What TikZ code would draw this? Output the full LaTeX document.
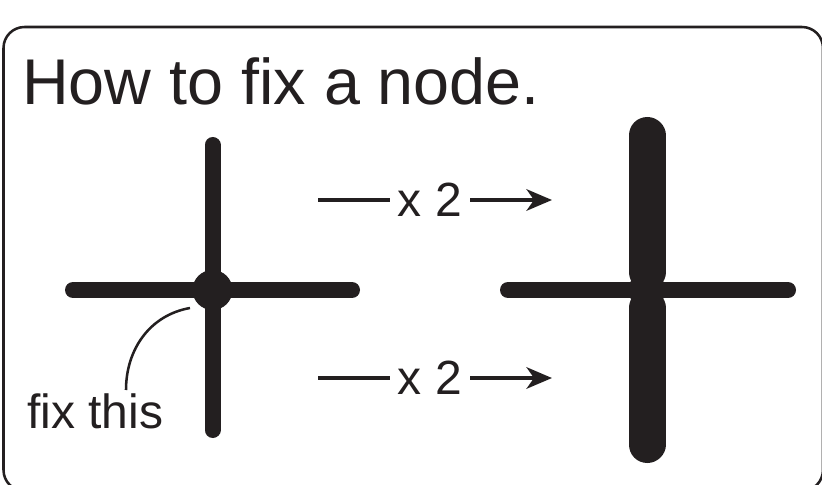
\documentclass[tikz,border=0pt]{standalone}
\usepackage{fontspec}
\setmainfont{Liberation Sans}
\usetikzlibrary{arrows.meta,positioning}
\definecolor{InkBlack}{HTML}{231F20}
\tikzset{
    % Outer frame style
    framebox/.style={
        draw=InkBlack,
        line width=1.9pt,
        rounded corners=15.75pt
    },
    % Thin bar of a cross
    thinbar/.style={
        draw=InkBlack,
        line width=12pt,
        line cap=round
    },
    % Doubled bar of a cross
    thickbar/.style={
        draw=InkBlack,
        line width=27.75pt,
        line cap=round
    },
    % Joint where the bars meet
    jointnode/.style={
        circle,
        fill=InkBlack,
        inner sep=0pt,
        minimum size=30pt
    },
    % Plain text
    labeltext/.style={
        text=InkBlack,
        inner sep=0pt,
        font=\fontsize{36}{40}\selectfont
    },
    % Title text
    titletext/.style={
        labeltext,
        font=\fontsize{48.5}{54}\selectfont
    },
    % Factor text between the arrows
    factortext/.style={
        labeltext,
        inner xsep=6pt
    },
    % Plain line
    plainline/.style={
        line width=3.4pt,
        draw=InkBlack
    },
    % Arrow
    myarrow/.style={
        plainline,
        -{Stealth[length=19pt,width=16pt,inset=5.5pt]}
    },
    % Pointer curve
    pointer/.style={
        line width=1.9pt,
        draw=InkBlack
    }
}
\begin{document}
\begin{tikzpicture}[x=0.75pt, y=-0.75pt]
    \useasboundingbox (0,0) rectangle (822,485);
    \draw[framebox] (3.5,27) rectangle (823,491);

    \node[titletext, anchor=base west] (title) at (22,105) {How to fix a node.};

    % left cross
    \draw[thinbar] (73,290) -- (352,290);
    \draw[thinbar] (212.5,145) -- (212.5,430);
    \node[jointnode] (lfix) at (212.5,290) {};

    % right cross
    \draw[thinbar] (508,290) -- (788,290);
    \draw[thickbar] (647,135.5) -- (647,272);
    \draw[thickbar] (647,308) -- (647,444.5);
    \node[jointnode, minimum size=27.75pt] (rfix) at (647,290) {};

    % factor arrows
    \node[factortext] (topx) at (430,200) {x 2};
    \coordinate (topstart) at (318,200);
    \coordinate (topend) at (552,200);
    \draw[plainline] (topstart) -- (topx);
    \draw[myarrow] (topx) -- (topend);

    \node[factortext] (botx) at (430,378) {x 2};
    \coordinate (botstart) at (318,378);
    \coordinate (botend) at (552,378);
    \draw[plainline] (botstart) -- (botx);
    \draw[myarrow] (botx) -- (botend);

    % pointer to the joint
    \node[labeltext, anchor=base west] (fixlabel) at (27,428) {fix this};
    \coordinate (fixfoot) at (126,390);
    \coordinate (fixtip) at (190,308);
    \draw[pointer] (fixfoot) to[out=90, in=190] (fixtip);
\end{tikzpicture}
\end{document}
